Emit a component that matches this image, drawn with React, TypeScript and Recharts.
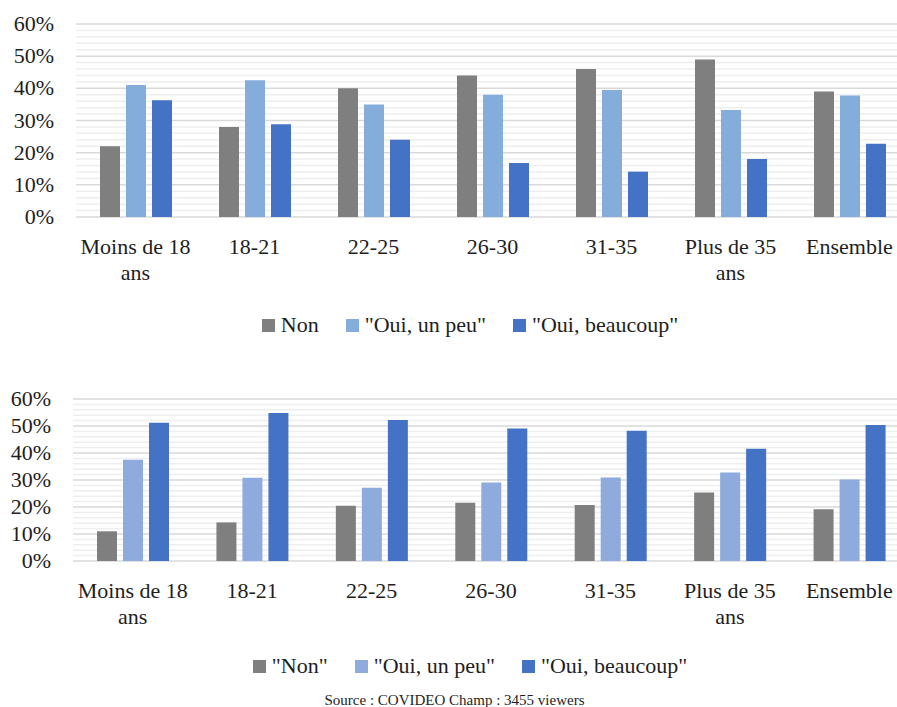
import React from "react";
import { BarChart, Bar, XAxis, YAxis, CartesianGrid, Legend } from "recharts";

const categories = ["Moins de 18 ans", "18-21", "22-25", "26-30", "31-35", "Plus de 35 ans", "Ensemble"];

const topSeriesNames = ["Non", "\"Oui, un peu\"", "\"Oui, beaucoup\""];
const topColors = ["#7f7f7f", "#85addb", "#4472c4"];
const topNon = [22, 28, 40, 44, 46, 49, 39];
const topPeu = [41, 42.5, 35, 38, 39.5, 33.3, 37.8];
const topBeaucoup = [36.3, 28.8, 24, 16.8, 14.1, 18, 22.8];

const bottomSeriesNames = ["\"Non\"", "\"Oui, un peu\"", "\"Oui, beaucoup\""];
const bottomColors = ["#7f7f7f", "#8faadc", "#4472c4"];
const bottomNon = [11, 14.3, 20.5, 21.6, 20.7, 25.4, 19.2];
const bottomPeu = [37.5, 30.8, 27.1, 29.1, 30.9, 32.8, 30.2];
const bottomBeaucoup = [51.2, 54.8, 52.2, 49.1, 48.2, 41.6, 50.4];

const majorTicks = [0, 10, 20, 30, 40, 50, 60];
const minorTicks = [2, 4, 6, 8, 12, 14, 16, 18, 22, 24, 26, 28, 32, 34, 36, 38, 42, 44, 46, 48, 52, 54, 56, 58];
const allTicks = [...majorTicks, ...minorTicks].sort((a, b) => a - b);

const sourceText = "Source : COVIDEO Champ : 3455 viewers";

const FONT = "'Liberation Serif', 'Times New Roman', serif";
const TEXT_COLOR = "#1e1e1e";

const topData = categories.map((c, i) => ({ cat: c, a: topNon[i], b: topPeu[i], c3: topBeaucoup[i] }));
const bottomData = categories.map((c, i) => ({ cat: c, a: bottomNon[i], b: bottomPeu[i], c3: bottomBeaucoup[i] }));

// Long labels wrap before their last word (as the chart shows "Moins de 18 / ans").
const splitLabel = (s: string): string[] => {
  if (s.length <= 11) return [s];
  const k = s.lastIndexOf(" ");
  return [s.slice(0, k), s.slice(k + 1)];
};

const CategoryTick = (props: any) => {
  const { x, y, payload } = props;
  const lines = splitLabel(String(payload.value));
  return (
    <text x={x} y={y + 37} textAnchor="middle" fill={TEXT_COLOR} fontFamily={FONT} fontSize={22}>
      {lines.map((l, i) => (
        <tspan key={i} x={x} dy={i === 0 ? 0 : 26}>
          {l}
        </tspan>
      ))}
    </text>
  );
};

const ValueTick = (props: any) => {
  const { x, y, payload } = props;
  if (!majorTicks.includes(payload.value)) return <g />;
  return (
    <text x={x} y={y} dy={7} textAnchor="end" fill={TEXT_COLOR} fontFamily={FONT} fontSize={22}>
      {`${payload.value}%`}
    </text>
  );
};

const GridLine = (props: any) => {
  const { x1, x2, y1, y2, index } = props;
  const v = allTicks[index];
  const major = majorTicks.includes(v);
  return (
    <line
      x1={x1}
      x2={x2}
      y1={y1}
      y2={y2}
      stroke={major ? "#d9d9d9" : "#eeeeee"}
      strokeWidth={1.5}
    />
  );
};

const LegendRow = ({ names, colors }: { names: string[]; colors: string[] }) => (
  <div
    style={{
      display: "flex",
      justifyContent: "center",
      alignItems: "center",
      paddingLeft: 31,
      fontFamily: FONT,
      fontSize: 22,
      color: TEXT_COLOR,
      height: 32,
      lineHeight: "32px",
    }}
  >
    {names.map((n, i) => (
      <div key={i} style={{ display: "flex", alignItems: "center", marginLeft: i === 0 ? 0 : 27 }}>
        <span style={{ display: "inline-block", width: 13, height: 13, background: colors[i], marginRight: 6 }} />
        <span>{n}</span>
      </div>
    ))}
  </div>
);

const TopLegend = () => (
  <div style={{ height: 50, display: "flex", alignItems: "center" }}>
    <div style={{ width: "100%" }}>
      <LegendRow names={topSeriesNames} colors={topColors} />
    </div>
  </div>
);

const BottomLegend = () => (
  <div style={{ position: "relative", height: 70 }}>
    <div style={{ position: "absolute", left: 0, right: 0, top: 13 }}>
      <LegendRow names={bottomSeriesNames} colors={bottomColors} />
    </div>
    <div
      style={{
        position: "absolute",
        left: 0,
        right: 0,
        top: 54,
        textAlign: "center",
        fontFamily: FONT,
        fontSize: 15,
        lineHeight: "18px",
        color: TEXT_COLOR,
      }}
    >
      {sourceText}
    </div>
  </div>
);

const Panel = ({ data, names, colors, height, top, yWidth, xHeight, legendHeight, legend }: any) => (
  <BarChart width={909} height={height} data={data} margin={{ top, right: 0, left: 0, bottom: 0 }} barGap={6}>
    <CartesianGrid vertical={false} horizontal={(p: any) => <GridLine {...p} />} />
    <XAxis
      dataKey="cat"
      height={xHeight}
      axisLine={false}
      tickLine={false}
      tickSize={0}
      tickMargin={0}
      interval={0}
      tick={<CategoryTick />}
    />
    <YAxis
      width={yWidth}
      domain={[0, 60]}
      ticks={allTicks}
      interval={0}
      axisLine={false}
      tickLine={false}
      tickSize={0}
      tickMargin={22}
      tick={<ValueTick />}
    />
    <Legend verticalAlign="bottom" height={legendHeight} content={legend} />
    <Bar dataKey="a" name={names[0]} fill={colors[0]} barSize={20} isAnimationActive={false} />
    <Bar dataKey="b" name={names[1]} fill={colors[1]} barSize={20} isAnimationActive={false} />
    <Bar dataKey="c3" name={names[2]} fill={colors[2]} barSize={20} isAnimationActive={false} />
  </BarChart>
);

export default function App() {
  return (
    <div
      style={{
        position: "absolute",
        left: 0,
        top: 0,
        width: 897,
        height: 707,
        overflow: "hidden",
        background: "#ffffff",
      }}
    >
      <div style={{ position: "absolute", left: 0, top: 0 }}>
        <Panel
          data={topData}
          names={topSeriesNames}
          colors={topColors}
          height={350}
          top={24}
          yWidth={76}
          xHeight={83}
          legendHeight={50}
          legend={<TopLegend />}
        />
      </div>
      <div style={{ position: "absolute", left: 0, top: 350 }}>
        <Panel
          data={bottomData}
          names={bottomSeriesNames}
          colors={bottomColors}
          height={357}
          top={49}
          yWidth={73}
          xHeight={76}
          legendHeight={70}
          legend={<BottomLegend />}
        />
      </div>
    </div>
  );
}
